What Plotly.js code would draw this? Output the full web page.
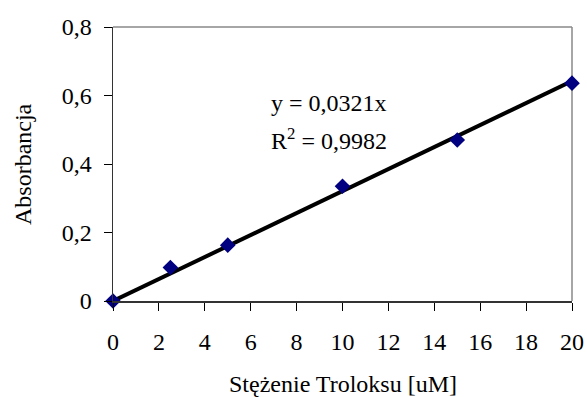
<!DOCTYPE html>
<html><head><meta charset="utf-8">
<script src="https://cdn.plot.ly/plotly-3.0.1.min.js"></script>
<style>body{margin:0;background:#fff}#c{width:587px;height:397px}</style>
</head><body><div id="c"></div>
<script>
const xVals = [0, 2.5, 5, 10, 15, 20];
const yVals = [0, 0.098, 0.163, 0.335, 0.47, 0.636];
const slope = 0.0321;
const trendX = [0, 20];
const trendY = trendX.map(x => slope * x);
const yTickVals = [0, 0.2, 0.4, 0.6, 0.8];
const yTickText = ['0', '0,2', '0,4', '0,6', '0,8'];
const xTickVals = [0, 2, 4, 6, 8, 10, 12, 14, 16, 18, 20];
const eqText = 'y = 0,0321x';
const r2Text = 'R<sup>2</sup> = 0,9982';
const xTitle = 'Stężenie Troloksu [uM]';
const yTitle = 'Absorbancja';

const font = {family: 'Liberation Serif, Times New Roman, serif', size: 24, color: '#000'};

Plotly.newPlot('c', [
  {x: trendX, y: trendY, mode: 'lines', line: {color: '#000', width: 4}, hoverinfo: 'skip', cliponaxis: false},
  {x: xVals, y: yVals, mode: 'markers', marker: {symbol: 'diamond', color: '#000080', size: 12}, cliponaxis: false}
], {
  width: 587, height: 397,
  margin: {l: 113, r: 15, t: 27, b: 96},
  showlegend: false,
  paper_bgcolor: '#fff', plot_bgcolor: '#fff',
  font: font,
  shapes: [
    {type: 'line', xref: 'paper', yref: 'paper', x0: 0, x1: 1, y0: 1, y1: 1, line: {color: '#888', width: 1.5}, layer: 'below'},
    {type: 'line', xref: 'paper', yref: 'paper', x0: 1, x1: 1, y0: 0, y1: 1, line: {color: '#888', width: 1.5}, layer: 'below'}
  ],
  xaxis: {
    range: [0, 20], tickvals: xTickVals, ticks: 'outside', ticklen: 8, tickcolor: '#000', tickwidth: 1,
    showline: true, linecolor: '#333', linewidth: 1.5, showgrid: false, zeroline: false,
    tickfont: font, ticklabelstandoff: 11
  },
  yaxis: {
    range: [0, 0.8], tickvals: yTickVals, ticktext: yTickText, ticks: 'outside', ticklen: 8, tickcolor: '#000', tickwidth: 1,
    showline: true, linecolor: '#333', linewidth: 1.5, showgrid: false, zeroline: false,
    tickfont: font, ticklabelstandoff: 7
  },
  annotations: [
    {xref: 'paper', yref: 'paper', x: 0.5, y: -0.303, xanchor: 'center', yanchor: 'middle', showarrow: false,
     text: xTitle, font: font},
    {xref: 'paper', yref: 'paper', x: -0.196, y: 0.5, xanchor: 'center', yanchor: 'middle', showarrow: false, textangle: -90,
     text: yTitle, font: font},
    {xref: 'paper', yref: 'paper', x: 0.34, y: 0.723, xanchor: 'left', yanchor: 'middle', showarrow: false, align: 'left',
     text: eqText, font: font},
    {xref: 'paper', yref: 'paper', x: 0.34, y: 0.59, xanchor: 'left', yanchor: 'middle', showarrow: false, align: 'left',
     text: r2Text, font: font}
  ]
}, {displayModeBar: false, staticPlot: true});
</script></body></html>
